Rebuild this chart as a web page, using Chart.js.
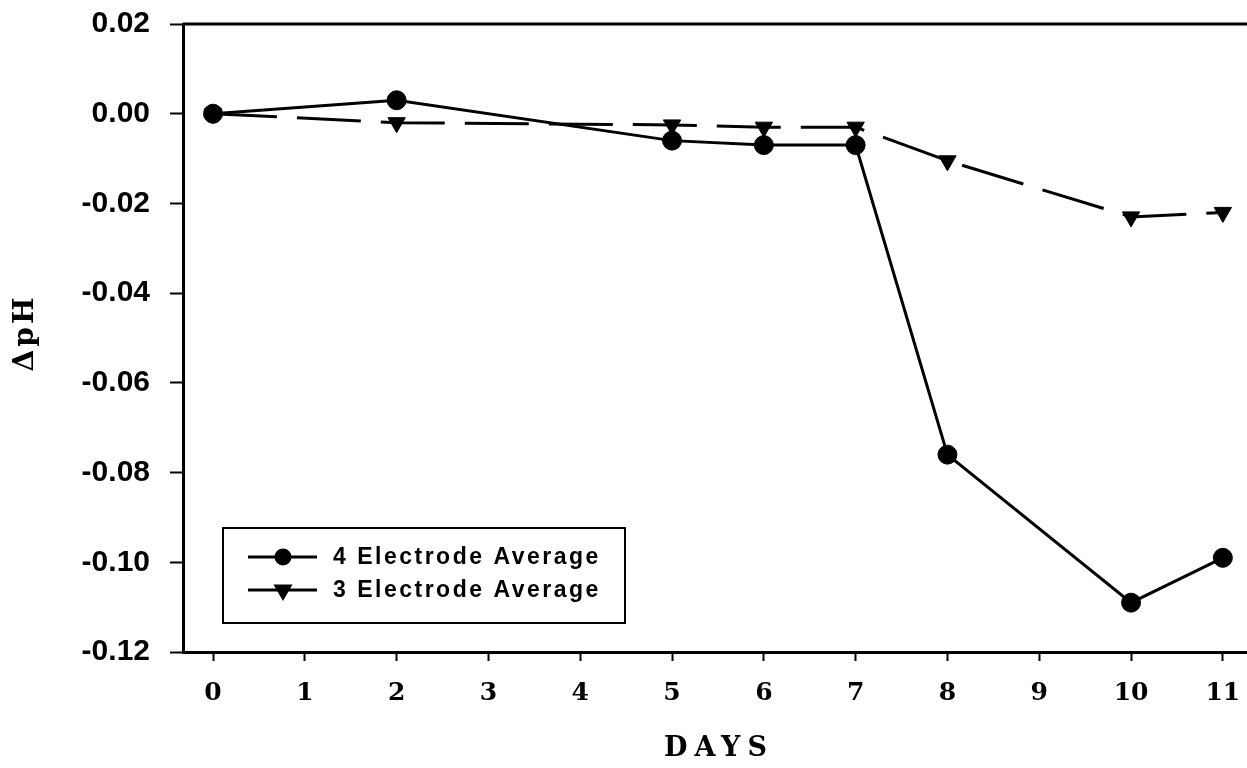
<!DOCTYPE html>
<html><head><meta charset="utf-8">
<script src="https://cdn.jsdelivr.net/npm/chart.js@4.4.0/dist/chart.umd.min.js"></script>
<style>html,body{margin:0;padding:0;background:#fff}#wrap{width:1247px;height:768px}</style>
</head><body><div id="wrap"><canvas id="c" width="1247" height="768"></canvas></div>
<script>
const days = [0, 2, 5, 6, 7, 8, 10, 11];
const fourElectrode = [0.000, 0.003, -0.006, -0.007, -0.007, -0.076, -0.109, -0.099];
const threeElectrode = [0.000, -0.002, -0.0025, -0.003, -0.003, -0.0105, -0.023, -0.022];
const xTicks = [0, 1, 2, 3, 4, 5, 6, 7, 8, 9, 10, 11];
const yTicks = [0.02, 0.00, -0.02, -0.04, -0.06, -0.08, -0.10, -0.12];
const seriesLabels = ['4 Electrode Average', '3 Electrode Average'];
const xTitle = 'DAYS';
const yTitle = 'ΔpH';

// let the plot area reach the right edge of the canvas (no inset for marker overflow)
Chart.LineController.prototype.getMaxOverflow = function () { return 0; };

const deco = {
  id: 'deco',
  afterDraw(chart) {
    const ctx = chart.ctx, a = chart.chartArea;
    ctx.save();
    ctx.strokeStyle = '#000'; ctx.lineWidth = 3;
    ctx.beginPath(); ctx.moveTo(a.left, a.top); ctx.lineTo(a.right, a.top); ctx.stroke();
    ctx.fillStyle = '#000';
    ctx.textAlign = 'center'; ctx.textBaseline = 'middle';
    ctx.font = 'bold 27px "DejaVu Serif"';
    ctx.letterSpacing = '7px';
    ctx.fillText(xTitle, (a.left + a.right) / 2 + 4, 749);
    ctx.letterSpacing = '3px';
    ctx.translate(26, (a.top + a.bottom) / 2 - 4);
    ctx.rotate(-Math.PI / 2);
    ctx.font = 'bold 28px "DejaVu Serif"';
    ctx.fillText(yTitle, 1, 0);
    ctx.restore();

    // legend box
    ctx.save();
    ctx.strokeStyle = '#000'; ctx.lineWidth = 2;
    ctx.strokeRect(223, 528, 402, 95);
    chart.data.datasets.forEach((ds, i) => {
      const y = 557 + i * 33;
      ctx.strokeStyle = '#000'; ctx.fillStyle = '#000'; ctx.lineWidth = 3;
      ctx.setLineDash([]);
      ctx.beginPath(); ctx.moveTo(248, y); ctx.lineTo(317, y); ctx.stroke();
      Chart.helpers.drawPoint(ctx, {pointStyle: ds.pointStyle, rotation: ds.pointRotation || 0, radius: i === 0 ? 7 : 8, borderWidth: 1}, 283, y);
      ctx.font = 'bold 23px "Liberation Sans"';
      ctx.letterSpacing = '2.5px';
      ctx.textAlign = 'left'; ctx.textBaseline = 'middle';
      ctx.fillText(ds.label, 333, y + 1);
      ctx.letterSpacing = '0px';
    });
    ctx.restore();
  }
};

new Chart(document.getElementById('c'), {
  type: 'line',
  data: {
    datasets: [
      {
        label: seriesLabels[0],
        data: days.map((d, i) => ({x: d, y: fourElectrode[i]})),
        borderColor: '#000', backgroundColor: '#000', borderWidth: 3,
        pointStyle: 'circle', pointRadius: 9.5, pointBorderWidth: 1,
        pointBackgroundColor: '#000', pointBorderColor: '#000', tension: 0, clip: false
      },
      {
        label: seriesLabels[1],
        data: days.map((d, i) => ({x: d, y: threeElectrode[i]})),
        borderColor: '#000', backgroundColor: '#000', borderWidth: 3, borderDash: [64, 20],
        pointStyle: 'triangle', pointRotation: 180, pointRadius: 10, pointBorderWidth: 1,
        pointBackgroundColor: '#000', pointBorderColor: '#000', tension: 0, clip: false
      }
    ]
  },
  options: {
    responsive: false, animation: false, devicePixelRatio: 1,
    layout: {padding: {top: 24, right: 0, left: 0, bottom: 0}},
    plugins: {legend: {display: false}, tooltip: {enabled: false}},
    scales: {
      x: {
        type: 'linear', min: -0.327, max: 11.263,
        afterBuildTicks: s => { s.ticks = xTicks.map(v => ({value: v})); },
        afterFit: s => { s.height = 116; s.paddingLeft = 0; s.paddingRight = 0; },
        ticks: {color: '#000', font: {family: 'DejaVu Serif', weight: 'bold', size: 25}, padding: 17, maxRotation: 0, autoSkip: false},
        grid: {display: true, drawOnChartArea: false, drawTicks: true, tickLength: 9, tickWidth: 2, tickColor: '#000'},
        border: {display: true, color: '#000', width: 3}
      },
      y: {
        type: 'linear', min: -0.12, max: 0.02,
        afterBuildTicks: s => { s.ticks = yTicks.map(v => ({value: v})); },
        afterFit: s => { s.width = 183; s.paddingTop = 0; s.paddingBottom = 0; },
        ticks: {color: '#000', font: {family: 'Liberation Sans', weight: 'bold', size: 30}, padding: 20,
          callback: v => Number(v).toFixed(2)},
        grid: {display: true, drawOnChartArea: false, drawTicks: true, tickLength: 13, tickWidth: 2, tickColor: '#000'},
        border: {display: true, color: '#000', width: 3}
      }
    }
  },
  plugins: [deco]
});
</script></body></html>
